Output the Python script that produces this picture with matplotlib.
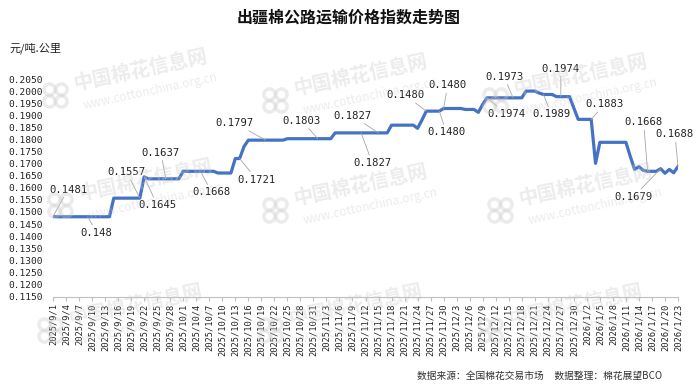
import matplotlib
matplotlib.use("Agg")
import matplotlib.pyplot as plt
from matplotlib.lines import Line2D
import pandas as pd

plt.rcParams['font.family'] = ['Noto Sans CJK SC', 'DejaVu Sans']

# categories: every day from 2025/9/1 to 2026/1/23
dates = pd.date_range("2025-09-01", "2026-01-23", freq="D")
date_labels = [f"{d.year}/{d.month}/{d.day}" for d in dates]

# index values (yuan / ton.km)
sep = [0.1481] + [0.1480] * 13 + [0.1557] * 7 + [0.1645] + [0.1637] * 8
oct_ = [0.1668] * 8 + [0.1661] * 4 + [0.1721] * 2 + [0.1770] + [0.1797] * 9 + [0.1803] * 7
nov = [0.1803] * 4 + [0.1827] * 13 + [0.1859] * 6 + [0.1846, 0.1880] + [0.1917] * 4 + [0.1928]
dec = ([0.1928] * 4 + [0.1924] * 3 + [0.1912, 0.1945] + [0.1972] * 9 + [0.2000] * 3
       + [0.1992] + [0.1986] * 3 + [0.1977] * 4 + [0.1930, 0.1883])
jan = ([0.1883] * 3 + [0.1701] + [0.1788] * 7 + [0.1730, 0.1676, 0.1687, 0.1672]
       + [0.1668] * 3 + [0.1679, 0.1660, 0.1676, 0.1662, 0.1688])
values = sep + oct_ + nov + dec + jan

# data labels: (day index, text, offset in pixels)
label_idx = [0, 8, 20, 21, 26, 34, 43, 49, 61, 75, 71, 86, 90, 89, 106, 100, 113, 117, 124, 137, 144, 140]
label_txt = ["0.1481", "0.148", "0.1557", "0.1645", "0.1637", "0.1668", "0.1721", "0.1797",
             "0.1803", "0.1827", "0.1827", "0.1480", "0.1480", "0.1480", "0.1973", "0.1974",
             "0.1989", "0.1974", "0.1883", "0.1668", "0.1688", "0.1679"]
label_off = [(15, 27), (9, -16), (-13, 26), (13, -28), (-5, 26), (11, -21), (17, -21), (-31, 17),
             (-16, 18), (-26, 17), (11, -30), (-21, 16), (4, 23), (7, -21), (-9, 21), (19, -16),
             (8, -20), (0, 28), (13, 15), (-4, 49), (-3, 32), (-27, -28)]

W, H = 700, 386
fig = plt.figure(figsize=(7, 3.86), dpi=100)
ax = fig.add_axes([53 / W, (H - 296.5) / H, (678 - 53) / W, (296.5 - 79) / H])

x = list(range(len(values)))
ax.plot(x, values, color='#4472c4', lw=2.3, solid_joinstyle='round', zorder=3)

ax.set_xlim(0, len(values) - 1)
ax.set_ylim(0.115, 0.205)
ax.set_yticks([0.115 + 0.005 * k for k in range(19)])
ax.set_yticklabels([f"{0.115 + 0.005 * k:.4f}" for k in range(19)],
                   fontfamily='DejaVu Sans Mono', fontsize=6.8, color='#222222')
ax.tick_params(axis='y', length=0, pad=7)

ax.set_xticks(x[::3])
ax.set_xticklabels(date_labels[::3], rotation=90, fontfamily='DejaVu Sans Mono',
                   fontsize=6.3, color='#222222')
ax.tick_params(axis='x', length=3, color='#bfbfbf', pad=2)

for s in ['top', 'right', 'left']:
    ax.spines[s].set_visible(False)
ax.spines['bottom'].set_color('#bfbfbf')
ax.spines['bottom'].set_linewidth(0.8)

for i, t, (dx, dy) in zip(label_idx, label_txt, label_off):
    ax.annotate(t, xy=(i, values[i]), xytext=(dx, dy), textcoords='offset pixels',
                ha='center', va='center', fontfamily='DejaVu Sans Mono', fontsize=7.6,
                color='#222222', zorder=5,
                arrowprops=dict(arrowstyle='-', color='#a6a6a6', lw=0.6,
                                shrinkA=0, shrinkB=0))

# watermarks
marks = [(55, 95), (275, 100), (495, 100), (60, 205), (275, 210), (500, 210),
         (50, 330), (270, 330), (490, 330)]
for lx, ly in marks:
    fig.text((lx + 85) / W, (H - ly + 25) / H, "中国棉花信息网", fontsize=14, fontweight='bold',
             rotation=12, color='#c8c8c8', alpha=0.35, ha='center', va='center', zorder=10)
    fig.text((lx + 95) / W, (H - ly + 4) / H, "www.cottonchina.org.cn", fontsize=8.5,
             rotation=12, color='#c8c8c8', alpha=0.35, ha='center', va='center', zorder=10)
    dots = Line2D([(lx - 6) / W, (lx + 6) / W, (lx - 6) / W, (lx + 6) / W],
                  [(H - ly + 6) / H, (H - ly + 6) / H, (H - ly - 6) / H, (H - ly - 6) / H],
                  transform=fig.transFigure, ls='', marker='o', ms=8, mfc='none',
                  mec='#c8c8c8', mew=2.5, alpha=0.35, zorder=10)
    fig.add_artist(dots)

fig.text(349 / W, 1 - 18 / H, "出疆棉公路运输价格指数走势图", fontsize=11.5, fontweight='bold',
         ha='center', va='center', color='#111111')
fig.text(10 / W, 1 - 48 / H, "元/吨.公里", fontsize=8, ha='left', va='center', color='#222222')
fig.text(417 / W, 1 - 376 / H, "数据来源：全国棉花交易市场     数据整理：棉花展望BCO",
         fontsize=7, ha='left', va='center', color='#333333')

fig.savefig("out.png", dpi=100)
